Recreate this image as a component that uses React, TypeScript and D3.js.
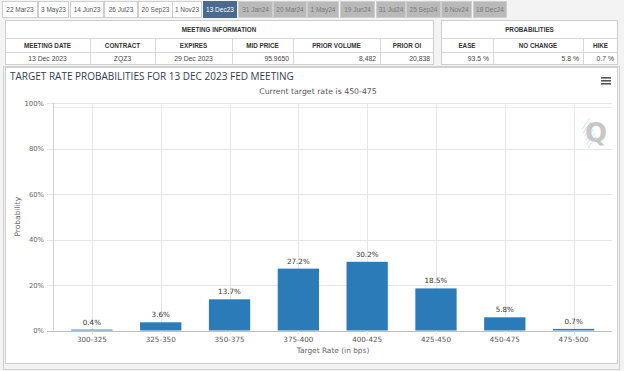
import React from "react";
import * as d3 from "d3";

const tabLabels = ["22 Mar23","3 May23","14 Jun23","26 Jul23","20 Sep23","1 Nov23","13 Dec23","31 Jan24","20 Mar24","1 May24","19 Jun24","31 Jul24","25 Sep24","6 Nov24","18 Dec24"];
const activeTab = 6;
const tabStarts = [2,38,70,104,138,172,203,238,273,307,340,376,406,441,473];
const tabEnds = [37,68,103,137,172,201,236,272,306,338,374,405,440,471,506];

const meetingCols = ["MEETING DATE","CONTRACT","EXPIRES","MID PRICE","PRIOR VOLUME","PRIOR OI"];
const meetingVals = ["13 Dec 2023","ZQZ3","29 Dec 2023","95.9650","8,482","20,838"];
const meetingColX = [5,90,155,232,293,380,434];
const meetingAlign = ["middle","middle","middle","end","end","end"];
const probCols = ["EASE","NO CHANGE","HIKE"];
const probVals = ["93.5 %","5.8 %","0.7 %"];
const probColX = [441,493,583,618];

const categories = ["300-325","325-350","350-375","375-400","400-425","425-450","450-475","475-500"];
const values = [0.4,3.6,13.7,27.2,30.2,18.5,5.8,0.7];
const yTicks = [0,20,40,60,80,100];

const FONT = "'Liberation Sans', Arial, sans-serif";
const CFONT = "'DejaVu Sans', 'Open Sans', sans-serif";
const TFONT = "'Open Sans', 'DejaVu Sans', sans-serif";

export default function App() {
  const W = 624, H = 371;
  const plotL = 53, plotR = 612, plotT = 103, plotB = 330.5;
  const y = d3.scaleLinear().domain([0, 100]).range([plotB, plotT]);
  const x = d3.scaleBand().domain(categories).range([57.5, 608]).paddingInner(0.4).paddingOuter(0.2);
  const xc = (c: string) => (x(c) as number) + x.bandwidth() / 2;

  return (
    <div style={{ position: "absolute", left: 0, top: 0 }}>
      <svg width={W} height={H} style={{ display: "block" }}>
        <rect x={0} y={0} width={W} height={H} fill="#f3f3f3" />
        {/* tabs */}
        {tabLabels.map((t, i) => {
          const isActive = i === activeTab;
          const gray = i > activeTab;
          const x0 = tabStarts[i], x1 = tabEnds[i];
          return (
            <g key={t}>
              <rect x={x0 + 0.5} y={1.5} width={x1 - x0} height={16} fill={isActive ? "#4b6a8d" : gray ? "#b9b9b9" : "#ffffff"} stroke={isActive ? "#4b6a8d" : "#cfcfcf"} />
              <text x={(x0 + x1) / 2 + 0.5} y={12.3} textAnchor="middle" fontFamily={FONT} fontSize={6.5} fill={isActive ? "#ffffff" : gray ? "#7a7a7a" : "#555"}>{t}</text>
            </g>
          );
        })}
        {/* meeting info table */}
        <rect x={5.5} y={20.5} width={428} height={44} fill="#fff" stroke="#cfcfcf" />
        <line x1={5.5} x2={433.5} y1={38.5} y2={38.5} stroke="#d8d8d8" />
        <line x1={5.5} x2={433.5} y1={52.5} y2={52.5} stroke="#d8d8d8" />
        <text x={219} y={32} textAnchor="middle" fontFamily={FONT} fontSize={6.3} fontWeight="bold" fill="#333">MEETING INFORMATION</text>
        {meetingCols.map((c, i) => {
          const x0 = meetingColX[i], x1 = meetingColX[i + 1];
          const anchor = meetingAlign[i];
          const vx = anchor === "end" ? x1 - 4 : (x0 + x1) / 2;
          return (
            <g key={c}>
              {i > 0 && <line x1={x0 + 0.5} x2={x0 + 0.5} y1={38.5} y2={64.5} stroke="#d8d8d8" />}
              <text x={(x0 + x1) / 2} y={48} textAnchor="middle" fontFamily={FONT} fontSize={6.3} fontWeight="bold" fill="#333">{c}</text>
              <text x={vx} y={61} textAnchor={anchor as any} fontFamily={FONT} fontSize={6.8} fill="#444">{meetingVals[i]}</text>
            </g>
          );
        })}
        {/* probabilities table */}
        <rect x={441.5} y={20.5} width={176} height={44} fill="#fff" stroke="#cfcfcf" />
        <line x1={441.5} x2={617.5} y1={38.5} y2={38.5} stroke="#d8d8d8" />
        <line x1={441.5} x2={617.5} y1={52.5} y2={52.5} stroke="#d8d8d8" />
        <text x={529.5} y={32} textAnchor="middle" fontFamily={FONT} fontSize={6.3} fontWeight="bold" fill="#333">PROBABILITIES</text>
        {probCols.map((c, i) => {
          const x0 = probColX[i], x1 = probColX[i + 1];
          return (
            <g key={c}>
              {i > 0 && <line x1={x0 + 0.5} x2={x0 + 0.5} y1={38.5} y2={64.5} stroke="#d8d8d8" />}
              <text x={(x0 + x1) / 2} y={48} textAnchor="middle" fontFamily={FONT} fontSize={6.3} fontWeight="bold" fill="#333">{c}</text>
              <text x={x1 - 4} y={61} textAnchor="end" fontFamily={FONT} fontSize={6.8} fill="#444">{probVals[i]}</text>
            </g>
          );
        })}
        {/* chart panel */}
        <rect x={3.5} y={66.5} width={616} height={303} fill="#f3f3f3" stroke="#d0d0d0" />
        <rect x={5.5} y={67.5} width={612} height={296} fill="#fff" stroke="#cfcfcf" />
        <text x={10} y={80} fontFamily={TFONT} fontSize={10} fill="#333d52">TARGET RATE PROBABILITIES FOR 13 DEC 2023 FED MEETING</text>
        <text x={318} y={94} textAnchor="middle" fontFamily={CFONT} fontSize={7.8} fill="#555">Current target rate is 450-475</text>
        {/* menu */}
        {[0, 3, 6].map((d) => (
          <rect key={d} x={601} y={77 + d} width={10} height={1.6} fill="#555" />
        ))}
        {/* Q watermark */}
        <g opacity={0.75}>
          {[0, 1, 2, 3, 4, 5].map((k) => (
            <line key={k} x1={590 + k * 1.2} y1={118 + k * 3.8} x2={582 + k * 1.2} y2={129 + k * 3.8} stroke="#9fd3ec" strokeWidth={0.8} />
          ))}
          <text x={596} y={142} textAnchor="middle" fontFamily={CFONT} fontSize={26} fontWeight="bold" fill="#b5b5b5">Q</text>
        </g>
        {/* grid */}
        {yTicks.map((t) => (
          <g key={t}>
            <line x1={47} x2={plotR} y1={Math.round(y(t)) + 0.5} y2={Math.round(y(t)) + 0.5} stroke={t === 0 ? "#c0c0c0" : "#e6e6e6"} />
            <text x={44} y={y(t) + 2.5} textAnchor="end" fontFamily={CFONT} fontSize={6.8} fill="#666">{t}%</text>
          </g>
        ))}
        <line x1={plotL} x2={plotR} y1={107.5} y2={107.5} stroke="#ececec" />
        <line x1={plotL + 0.5} x2={plotL + 0.5} y1={plotT} y2={plotB} stroke="#d0d0d0" />
        {categories.map((c) => (
          <line key={c} x1={Math.round(xc(c)) + 0.5} x2={Math.round(xc(c)) + 0.5} y1={plotT} y2={plotB + 4} stroke="#e6e6e6" />
        ))}
        {/* bars */}
        {categories.map((c, i) => (
          <g key={c}>
            <rect x={x(c)} y={y(values[i])} width={x.bandwidth()} height={plotB - y(values[i])} fill="#2b7bb9" />
            <text x={xc(c)} y={y(values[i]) - 5} textAnchor="middle" fontFamily={CFONT} fontSize={7.2} fill="#333">{values[i].toFixed(1)}%</text>
            <text x={xc(c)} y={342} textAnchor="middle" fontFamily={CFONT} fontSize={7.2} fill="#555">{c}</text>
          </g>
        ))}
        <text x={333} y={353} textAnchor="middle" fontFamily={CFONT} fontSize={7.4} fill="#666">Target Rate (in bps)</text>
        <text transform={`translate(20,${(plotT + plotB) / 2}) rotate(-90)`} textAnchor="middle" fontFamily={CFONT} fontSize={7.5} fill="#666">Probability</text>
      </svg>
    </div>
  );
}
